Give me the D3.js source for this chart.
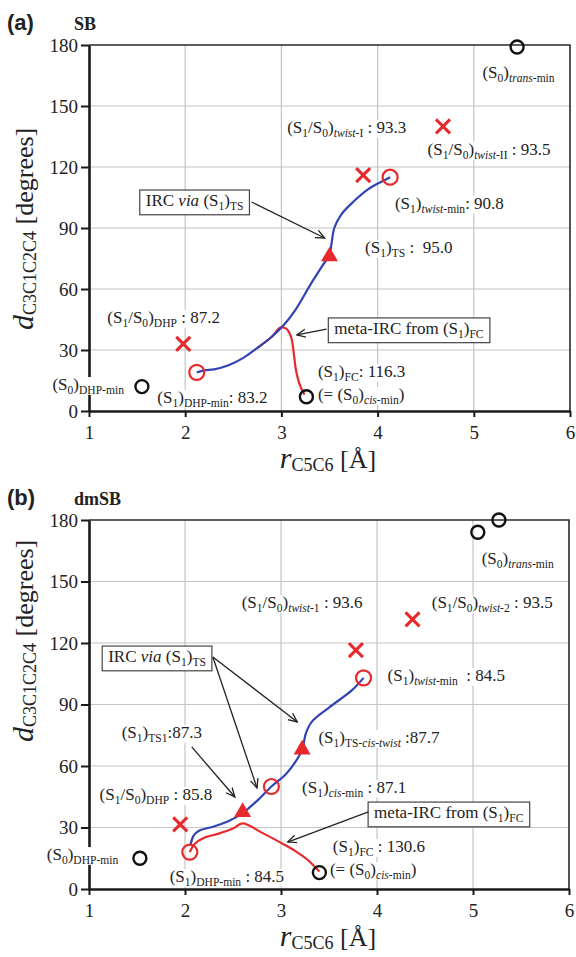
<!DOCTYPE html>
<html>
<head>
<meta charset="utf-8">
<script src="https://cdn.jsdelivr.net/npm/d3@7"></script>
<style>
body { margin: 0; background: #fff; }
svg text { font-family: "Liberation Serif", "Times New Roman", serif; fill: #222; }
</style>
</head>
<body>
<div id="chart"></div>
<script>
/* tick values */
var xTicks = [1, 2, 3, 4, 5, 6];
var yTicks = [0, 30, 60, 90, 120, 150, 180];

/* panel (a) SB : [r_C5C6, d_C3C1C2C4] */
var aBlackCircles = [[5.45, 179], [1.55, 12], [3.26, 7]];
var aRedCircles = [[4.13, 115], [2.12, 19]];
var aRedCrosses = [[4.68, 140], [3.85, 116], [1.98, 33]];
var aTriangles = [[3.5, 76]];
var aIrc = [[2.12, 19], [2.2, 20], [2.3, 20.5], [2.45, 22.5], [2.6, 26], [2.75, 31], [2.9, 36.5],
            [3.02, 42], [3.15, 50], [3.3, 62], [3.42, 71], [3.5, 77], [3.52, 82], [3.55, 90],
            [3.62, 96.5], [3.75, 103], [3.9, 109], [4.05, 113], [4.13, 115]];
var aMeta = [[2.75, 31], [2.9, 36.5], [2.99, 41], [3.05, 40.5], [3.1, 36.5], [3.13, 28],
             [3.15, 20.5], [3.19, 13], [3.24, 8]];

/* panel (b) dmSB */
var bBlackCircles = [[5.05, 174], [5.27, 180], [1.53, 15], [3.4, 8]];
var bRedCircles = [[3.86, 103], [2.9, 50], [2.05, 18]];
var bRedCrosses = [[4.37, 131.5], [3.78, 116.5], [1.95, 31.5]];
var bTriangles = [[3.22, 68], [2.6, 37.5]];
var bIrc = [[2.06, 22], [2.09, 26], [2.15, 28.5], [2.3, 30.5], [2.45, 33], [2.6, 37], [2.75, 43],
            [2.9, 50], [3.05, 56], [3.15, 62], [3.22, 68], [3.26, 76], [3.32, 81.5], [3.5, 88.5],
            [3.74, 97], [3.86, 103]];
var bMeta = [[2.05, 18], [2.1, 22], [2.2, 25], [2.35, 27], [2.5, 29.5], [2.6, 32], [2.8, 27.5],
             [3.0, 22.5], [3.15, 18.5], [3.27, 14.5], [3.4, 8.5]];

/* annotation text, "_{..}" = subscript, "*..*" = italic */
var aLabels = [
	[5.09, 163.8, "(S_{0})_{*trans*-min}"],
	[3.06, 136.7, "(S_{1}/S_{0})_{*twist*-I} : 93.3"],
	[4.52, 126, "(S_{1}/S_{0})_{*twist*-II} : 93.5"],
	[4.18, 99.4, "(S_{1})_{*twist*-min}: 90.8"],
	[3.87, 77.7, "(S_{1})_{TS} :  95.0"],
	[1.19, 43.3, "(S_{1}/S_{0})_{DHP} : 87.2"],
	[0.62, 10.3, "(S_{0})_{DHP-min}"],
	[1.71, 3.9, "(S_{1})_{DHP-min}: 83.2"],
	[3.38, 16.7, "(S_{1})_{FC}: 116.3"],
	[3.38, 5.4, "(= (S_{0})_{*cis*-min})"]
];
var bLabels = [
	[5.09, 158.5, "(S_{0})_{*trans*-min}"],
	[2.59, 137, "(S_{1}/S_{0})_{*twist*-1} : 93.6"],
	[4.57, 137, "(S_{1}/S_{0})_{*twist*-2} : 93.5"],
	[4.11, 101.5, "(S_{1})_{*twist*-min}  : 84.5"],
	[1.34, 73.7, "(S_{1})_{TS1}:87.3"],
	[1.11, 43.4, "(S_{1}/S_{0})_{DHP} : 85.8"],
	[0.56, 14.1, "(S_{0})_{DHP-min}"],
	[1.84, 3.4, "(S_{1})_{DHP-min} : 84.5"],
	[3.39, 71.2, "(S_{1})_{TS-*cis*-*twist*} :87.7"],
	[3.22, 46.8, "(S_{1})_{*cis*-min} : 87.1"],
	[3.54, 18, "(S_{1})_{FC} : 130.6"],
	[3.51, 6.8, "(= (S_{0})_{*cis*-min})"]
];
/* boxed labels: [x, y, text] and arrows [x1, y1, x2, y2] */
var aBoxes = [[1.59, 100.8, "IRC *via* (S_{1})_{TS}"], [3.55, 37.9, "meta-IRC from (S_{1})_{FC}"]];
var aArrows = [[2.69, 102.8, 3.45, 85.1], [3.47, 40.3, 3.16, 37.4]];
var bBoxes = [[1.2, 110.7, "IRC *via* (S_{1})_{TS}"], [3.97, 34.6, "meta-IRC from (S_{1})_{FC}"]];
var bArrows = [[2.29, 113.2, 3.17, 81.5], [2.29, 113.2, 2.75, 49.3], [2.07, 69.3, 2.52, 44.9],
               [3.91, 37.6, 3.07, 22.9]];

var red = "#e8282b", blue = "#3244b4";
var serif = "'Liberation Serif', 'Times New Roman', serif";

var svg = d3.select("#chart").append("svg")
	.attr("width", 576)
	.attr("height", 957);

svg.append("defs").append("marker")
	.attr("id", "arr")
	.attr("viewBox", "0 0 10 10")
	.attr("refX", 9).attr("refY", 5)
	.attr("markerUnits", "userSpaceOnUse")
	.attr("markerWidth", 10).attr("markerHeight", 10)
	.attr("orient", "auto")
	.append("path")
	.attr("d", "M0,1 L9,5 L0,9")
	.attr("fill", "none")
	.attr("stroke", "#222")
	.attr("stroke-width", 1.3);

function parse(str) {
	var out = [], sub = false, ital = false, buf = "";
	function flush() {
		if (buf.length) out.push([buf, (sub ? "s" : "") + (ital ? "i" : "")]);
		buf = "";
	}
	for (var i = 0; i < str.length; i++) {
		var c = str[i];
		if (c === "_" && str[i + 1] === "{") { flush(); sub = true; i++; }
		else if (c === "}" && sub) { flush(); sub = false; }
		else if (c === "*") { flush(); ital = !ital; }
		else buf += c;
	}
	flush();
	return out;
}

function richText(g, x, y, str, fs) {
	var t = g.append("text")
		.attr("x", x).attr("y", y)
		.style("font-size", fs + "px")
		.style("white-space", "pre");
	var cur = 0;
	parse(str).forEach(function(p) {
		var isSub = p[1].indexOf("s") >= 0;
		var want = isSub ? fs * 0.22 : 0;
		var s = t.append("tspan").attr("dy", want - cur).text(p[0]);
		cur = want;
		if (isSub) s.style("font-size", (fs * 0.68) + "px");
		if (p[1].indexOf("i") >= 0) s.style("font-style", "italic");
	});
	return t;
}

function drawPanel(p) {
	var x = d3.scaleLinear().domain([1, 6]).range([p.left, p.right]);
	var y = d3.scaleLinear().domain([0, 180]).range([p.bottom, p.top]);
	var g = svg.append("g");

	/* grid */
	g.selectAll(".gx").data(xTicks.slice(1, -1)).enter().append("line")
		.attr("x1", function(d) { return x(d); }).attr("x2", function(d) { return x(d); })
		.attr("y1", p.top).attr("y2", p.bottom)
		.attr("stroke", "#c4c4c4").attr("stroke-width", 1.2);
	g.selectAll(".gy").data(yTicks.slice(1, -1)).enter().append("line")
		.attr("x1", p.left).attr("x2", p.right)
		.attr("y1", function(d) { return y(d); }).attr("y2", function(d) { return y(d); })
		.attr("stroke", "#c4c4c4").attr("stroke-width", 1.2);

	/* top and right border */
	g.append("path")
		.attr("d", "M" + p.left + "," + p.top + "H" + p.right + "V" + p.bottom)
		.attr("fill", "none").attr("stroke", "#2a2a2a").attr("stroke-width", 1.6);

	/* axes */
	var xa = g.append("g")
		.attr("transform", "translate(0," + p.bottom + ")")
		.call(d3.axisBottom(x).tickValues(xTicks).tickFormat(d3.format("d"))
			.tickSize(6).tickSizeOuter(0).tickPadding(9));
	var ya = g.append("g")
		.attr("transform", "translate(" + p.left + ",0)")
		.call(d3.axisLeft(y).tickValues(yTicks).tickFormat(d3.format("d"))
			.tickSize(8).tickSizeOuter(0).tickPadding(3));
	[xa, ya].forEach(function(a) {
		a.attr("font-family", serif).attr("font-size", 19);
		a.select(".domain").attr("stroke", "#1a1a1a").attr("stroke-width", 2.6);
		a.selectAll(".tick line").attr("stroke", "#1a1a1a").attr("stroke-width", 2);
		a.selectAll(".tick text")
			.style("font-family", serif)
			.style("font-size", "19px")
			.attr("fill", "#222");
	});

	/* panel tag and name */
	svg.append("text").attr("x", 7).attr("y", p.top - 15)
		.style("font-family", "'Liberation Sans', Arial, sans-serif")
		.style("font-weight", "bold").style("font-size", "22px")
		.text(p.tag);
	svg.append("text").attr("x", 74).attr("y", p.top - 15)
		.style("font-weight", "bold").style("font-size", "18px")
		.text(p.name);

	/* axis titles */
	var yl = svg.append("text")
		.attr("transform", "translate(33," + p.ylabBottom + ") rotate(-90)");
	yl.append("tspan").style("font-style", "italic").style("font-size", "30px").text("d");
	yl.append("tspan").attr("dy", 3).style("font-size", "18px").text("C3C1C2C4");
	yl.append("tspan").attr("dy", -3).style("font-size", "26px").style("white-space", "pre").text(" [degrees]");

	var xl = svg.append("text")
		.attr("x", 328).attr("y", p.bottom + 57)
		.attr("text-anchor", "middle");
	xl.append("tspan").style("font-style", "italic").style("font-size", "30px").text("r");
	xl.append("tspan").attr("dy", 3).style("font-size", "18px").text("C5C6");
	xl.append("tspan").attr("dy", -3).style("font-size", "26px").style("white-space", "pre").text(" [Å]");

	/* labels with white backing */
	p.labels.forEach(function(l) {
		var t = richText(g, x(l[0]), y(l[1]), l[2], 17);
		var b = t.node().getBBox();
		g.insert("rect", function() { return t.node(); })
			.attr("x", b.x - 1).attr("y", b.y + 2)
			.attr("width", b.width + 2).attr("height", b.height - 4)
			.attr("fill", "#fff");
	});

	/* boxed labels */
	p.boxes.forEach(function(l) {
		var t = richText(g, x(l[0]), y(l[1]), l[2], 17);
		var b = t.node().getBBox();
		g.insert("rect", function() { return t.node(); })
			.attr("x", b.x - 6).attr("y", b.y - 1)
			.attr("width", b.width + 12).attr("height", b.height + 3)
			.attr("fill", "#fff").attr("stroke", "#444").attr("stroke-width", 1.2);
	});

	/* curves */
	var line = d3.line()
		.x(function(d) { return x(d[0]); })
		.y(function(d) { return y(d[1]); })
		.curve(d3.curveCatmullRom.alpha(0.5));
	g.append("path").datum(p.meta).attr("d", line)
		.attr("fill", "none").attr("stroke", red).attr("stroke-width", 2.2);
	g.append("path").datum(p.irc).attr("d", line)
		.attr("fill", "none").attr("stroke", blue).attr("stroke-width", 2.2);

	/* arrows */
	g.selectAll(".arrow").data(p.arrows).enter().append("line")
		.attr("x1", function(d) { return x(d[0]); }).attr("y1", function(d) { return y(d[1]); })
		.attr("x2", function(d) { return x(d[2]); }).attr("y2", function(d) { return y(d[3]); })
		.attr("stroke", "#222").attr("stroke-width", 1.3)
		.attr("marker-end", "url(#arr)");

	/* markers */
	g.selectAll(".bc").data(p.black).enter().append("circle")
		.attr("cx", function(d) { return x(d[0]); }).attr("cy", function(d) { return y(d[1]); })
		.attr("r", 6.5).attr("fill", "none").attr("stroke", "#111").attr("stroke-width", 2.4);
	g.selectAll(".rc").data(p.redC).enter().append("circle")
		.attr("cx", function(d) { return x(d[0]); }).attr("cy", function(d) { return y(d[1]); })
		.attr("r", 7.5).attr("fill", "none").attr("stroke", red).attr("stroke-width", 2.2);
	g.selectAll(".tri").data(p.tri).enter().append("path")
		.attr("d", d3.symbol().type(d3.symbolTriangle).size(125))
		.attr("transform", function(d) { return "translate(" + x(d[0]) + "," + y(d[1]) + ")"; })
		.attr("fill", red);
	g.selectAll(".cross").data(p.cross).enter().append("path")
		.attr("d", function(d) {
			var cx = x(d[0]), cy = y(d[1]), s = 7;
			return "M" + (cx - s) + "," + (cy - s) + "L" + (cx + s) + "," + (cy + s) +
			       "M" + (cx - s) + "," + (cy + s) + "L" + (cx + s) + "," + (cy - s);
		})
		.attr("stroke", red).attr("stroke-width", 3);
}

drawPanel({tag: "(a)", name: "SB", left: 89, right: 570, top: 45, bottom: 411, ylabBottom: 330,
	black: aBlackCircles, redC: aRedCircles, cross: aRedCrosses, tri: aTriangles,
	irc: aIrc, meta: aMeta, labels: aLabels, boxes: aBoxes, arrows: aArrows});
drawPanel({tag: "(b)", name: "dmSB", left: 89, right: 569, top: 520, bottom: 889, ylabBottom: 742,
	black: bBlackCircles, redC: bRedCircles, cross: bRedCrosses, tri: bTriangles,
	irc: bIrc, meta: bMeta, labels: bLabels, boxes: bBoxes, arrows: bArrows});
</script>
</body>
</html>
